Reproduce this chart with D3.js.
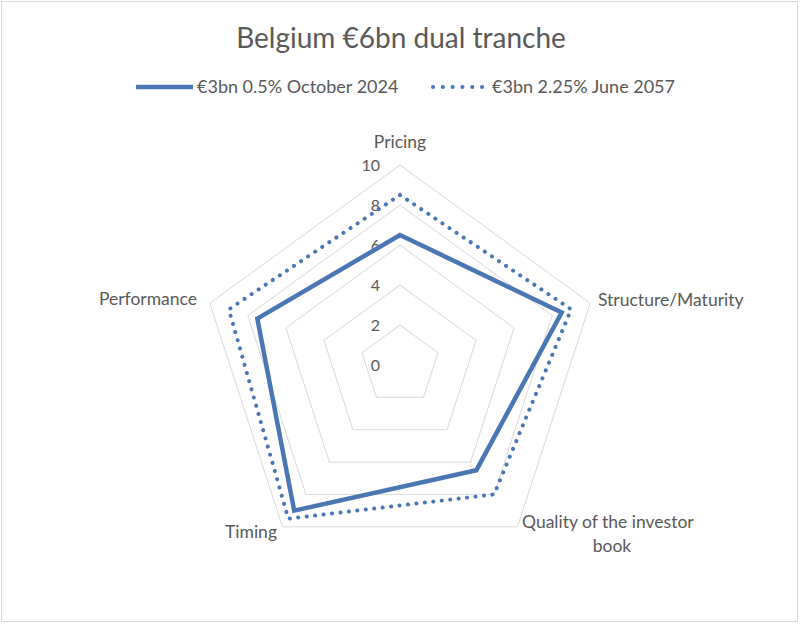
<!DOCTYPE html>
<html>
<head>
<meta charset="utf-8">
<script src="https://cdn.jsdelivr.net/npm/d3@7"></script>
<style>
  body { margin: 0; background: #fff; }
  text { font-family: Lato, "Open Sans", sans-serif; fill: #595959; }
</style>
</head>
<body>
<script>
var axes = ["Pricing", "Structure/Maturity", "Quality of the investor book", "Timing", "Performance"];
var tranche2024 = [6.5, 8.5, 6.5, 9, 7.5];
var tranche2057 = [8.5, 9, 8, 9.5, 9];
var ticks = [0, 2, 4, 6, 8, 10];
var seriesNames = ["€3bn 0.5% October 2024", "€3bn 2.25% June 2057"];

var svg = d3.select("body")
    .append("svg")
    .attr("width", 800)
    .attr("height", 624)
    .style("display", "block");

svg.append("rect")
    .attr("x", 1.5).attr("y", 1.5)
    .attr("width", 796).attr("height", 620)
    .attr("fill", "#fff")
    .attr("stroke", "#d9d9d9");

var cx = 400, cy = 365;
var r = d3.scaleLinear().domain([0, 10]).range([0, 200]);
var angle = d3.scaleLinear().domain([0, axes.length]).range([0, 2 * Math.PI]);

function pt(i, v) {
    var a = angle(i);
    return [cx + r(v) * Math.sin(a), cy - r(v) * Math.cos(a)];
}

var g = svg.append("g");

// grid pentagons
var radial = d3.line().curve(d3.curveLinearClosed);
g.selectAll(".grid")
    .data(ticks.slice(1))
    .enter()
    .append("path")
    .attr("d", function (t) {
        return radial(axes.map(function (a, i) { return pt(i, t); }));
    })
    .attr("fill", "none")
    .attr("stroke", "#d9d9d9")
    .attr("stroke-width", 1);

// tick labels
g.selectAll(".tick")
    .data(ticks)
    .enter()
    .append("text")
    .attr("x", cx - 20)
    .attr("y", function (t) { return cy - r(t); })
    .attr("dy", "0.35em")
    .attr("text-anchor", "end")
    .style("font-size", "16px")
    .text(function (t) { return t; });

// series
var series = [
    {name: seriesNames[0], values: tranche2024, dash: null},
    {name: seriesNames[1], values: tranche2057, dash: "0.1 8.4"}
];

g.selectAll(".series")
    .data(series)
    .enter()
    .append("path")
    .attr("d", function (s) {
        return radial(s.values.map(function (v, i) { return pt(i, v); }));
    })
    .attr("fill", "none")
    .attr("stroke", "#4a76b4")
    .attr("stroke-width", function (s) { return s.dash ? 4 : 4.5; })
    .attr("stroke-linecap", "round")
    .attr("stroke-linejoin", "miter")
    .attr("stroke-dasharray", function (s) { return s.dash; });

// category labels
var labelPos = [
    {x: 400, y: 142, anchor: "middle"},
    {x: 598, y: 300, anchor: "start"},
    {x: 522, y: 522, anchor: "start"},
    {x: 277, y: 532, anchor: "end"},
    {x: 197, y: 299, anchor: "end"}
];

axes.forEach(function (name, i) {
    var p = labelPos[i];
    var t = svg.append("text")
        .attr("x", p.x)
        .attr("y", p.y)
        .attr("dy", "0.35em")
        .attr("text-anchor", p.anchor)
        .style("font-size", "17.5px");
    if (i === 2) {
        t.append("tspan").attr("x", p.x).text("Quality of the investor");
        t.append("tspan").attr("x", 612).attr("dy", "1.35em").attr("text-anchor", "middle").text("book");
    } else {
        t.text(name);
    }
});

// title
svg.append("text")
    .attr("x", 401)
    .attr("y", 48)
    .attr("text-anchor", "middle")
    .style("font-size", "28px")
    .text("Belgium €6bn dual tranche");

// legend
var legend = svg.append("g");
var legendX = [136, 433];
series.forEach(function (s, i) {
    legend.append("line")
        .attr("x1", legendX[i]).attr("x2", legendX[i] + (s.dash ? 50 : 57))
        .attr("y1", 87).attr("y2", 87)
        .attr("stroke", "#4a76b4")
        .attr("stroke-width", s.dash ? 4 : 4.5)
        .attr("stroke-linecap", s.dash ? "round" : "butt")
        .attr("stroke-dasharray", s.dash ? "0.1 9.7" : null);
    legend.append("text")
        .attr("x", legendX[i] + (s.dash ? 59 : 61))
        .attr("y", 87)
        .attr("dy", "0.35em")
        .style("font-size", "18px")
        .text(s.name);
});
</script>
</body>
</html>
